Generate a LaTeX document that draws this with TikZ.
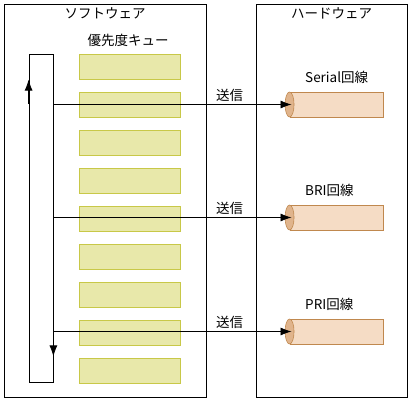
\documentclass[tikz,border=0pt]{standalone}
\usepackage{fontspec}
\setmainfont{Noto Sans CJK JP}
\usepackage{tikz}
\usetikzlibrary{arrows.meta, positioning, calc}

\definecolor{queuefill}{HTML}{E8E8AA}
\definecolor{queuedraw}{HTML}{C8C848}
\definecolor{linefill}{HTML}{F5DCC5}
\definecolor{linedraw}{HTML}{C0884E}
\definecolor{lineend}{HTML}{E0B48C}

\begin{document}
\begin{tikzpicture}[
    x=1pt, y=-1pt,
    font=\fontsize{13.5}{16}\selectfont,
    node distance=12.1pt,
    group/.style={rectangle, draw=black, line width=0.8pt, inner sep=0pt},
    qbox/.style={rectangle, draw=queuedraw, fill=queuefill, line width=0.9pt,
                minimum width=101pt, minimum height=25pt, inner sep=0pt},
    circuit/.style={rectangle, draw=linedraw, fill=linefill, line width=0.9pt,
                minimum width=93pt, minimum height=25pt, inner sep=0pt},
    circuitend/.style={draw=linedraw, fill=lineend, line width=0.6pt},
    ring/.style={rectangle, draw=black, line width=0.8pt, inner sep=0pt,
                minimum width=24pt, minimum height=328pt},
    arrow/.style={-{Latex[length=11pt, width=8pt]}, line width=0.8pt},
    tag/.style={inner sep=2pt}
]
\useasboundingbox (0,0) rectangle (411,401);

% groups
\node[group, minimum width=202pt, minimum height=393pt] (soft) at (105,200.5) {};
\node[group, minimum width=151pt, minimum height=393pt] (hard) at (331.5,200.5) {};
\node[tag] (softtitle) at (105,13) {ソフトウェア};
\node[tag] (hardtitle) at (331.5,13) {ハードウェア};

% priority queue
\node[tag] (qtitle) at (128,40) {優先度キュー};
\node[qbox] (q1) at (129.5,66.5) {};
\node[qbox, below=of q1] (q2) {};
\node[qbox, below=of q2] (q3) {};
\node[qbox, below=of q3] (q4) {};
\node[qbox, below=of q4] (q5) {};
\node[qbox, below=of q5] (q6) {};
\node[qbox, below=of q6] (q7) {};
\node[qbox, below=of q7] (q8) {};
\node[qbox, below=of q8] (q9) {};

% round robin loop
\node[ring] (ring) at (41,218) {};
\draw[arrow] ($(ring.north west)+(0,50)$) -- ($(ring.north west)+(0,26)$);
\draw[arrow] ($(ring.south east)+(0,-50)$) -- ($(ring.south east)+(0,-26)$);

% circuits
\node[circuit] (serial) at (336.5,104.5) {};
\node[circuit] (bri) at (336.5,217.5) {};
\node[circuit] (pri) at (336.5,331.5) {};
\draw[circuitend] (serial.west) ellipse [x radius=4.5pt, y radius=12.5pt];
\draw[circuitend] (bri.west) ellipse [x radius=4.5pt, y radius=12.5pt];
\draw[circuitend] (pri.west) ellipse [x radius=4.5pt, y radius=12.5pt];
\node[tag, anchor=west] (seriallabel) at (303,77) {Serial回線};
\node[tag, anchor=west] (brilabel) at (303,190.5) {BRI回線};
\node[tag, anchor=west] (prilabel) at (303,304.5) {PRI回線};

% send
\draw[arrow] (ring.east |- serial.west) -- node[pos=0.74, above, tag, yshift=1pt]{送信} ($(serial.west)+(2,0)$);
\draw[arrow] (ring.east |- bri.west) -- node[pos=0.74, above, tag, yshift=1pt]{送信} ($(bri.west)+(2,0)$);
\draw[arrow] (ring.east |- pri.west) -- node[pos=0.74, above, tag, yshift=1pt]{送信} ($(pri.west)+(2,0)$);

\end{tikzpicture}
\end{document}
